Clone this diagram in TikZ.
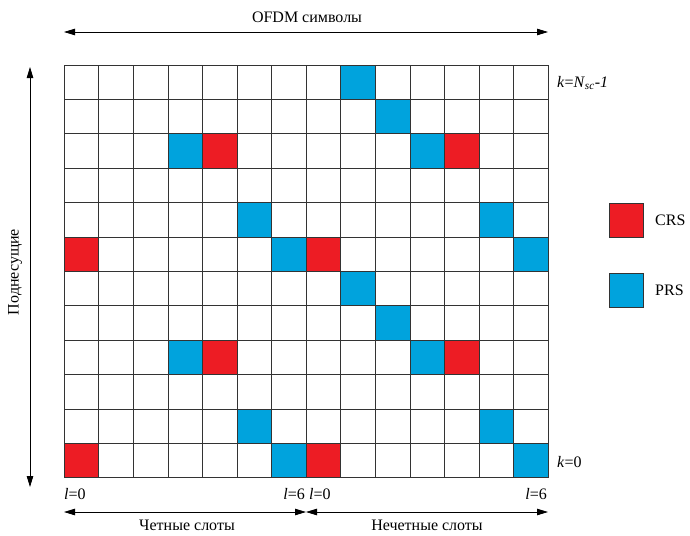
\documentclass[tikz,border=0pt]{standalone}
\usepackage{fontspec}
\setmainfont{Liberation Serif}
\usetikzlibrary{arrows.meta}
\definecolor{crsred}{HTML}{ED1C24}
\definecolor{prsblue}{HTML}{00A3DD}
\definecolor{gridline}{HTML}{333333}
\begin{document}
\begin{tikzpicture}[x=1pt,y=-1pt,
  lbl/.style={font=\fontsize{16}{18}\selectfont, inner sep=0pt},
  dimarrow/.style={line width=0.8pt, {Triangle[length=11pt,width=6.5pt]}-{Triangle[length=11pt,width=6.5pt]}},
  crs/.style={fill=crsred},
  prs/.style={fill=prsblue},
  legbox/.style={draw=gridline, line width=0.8pt, minimum width=34pt, minimum height=34pt, inner sep=0pt}]
\useasboundingbox (0,0) rectangle (690,535);
\def\xo{64.3}\def\yo{65}\def\cw{34.57}\def\rh{34.4}
% coloured resource elements: row from top, column from left
\foreach \r/\c/\s in {0/8/prs,1/9/prs,2/3/prs,2/4/crs,2/10/prs,2/11/crs,
  4/5/prs,4/12/prs,5/0/crs,5/6/prs,5/7/crs,5/13/prs,
  6/8/prs,7/9/prs,8/3/prs,8/4/crs,8/10/prs,8/11/crs,
  10/5/prs,10/12/prs,11/0/crs,11/6/prs,11/7/crs,11/13/prs}
  \fill[\s] ({\xo+\c*\cw},{\yo+\r*\rh}) rectangle ++(\cw,\rh);
% resource grid
\foreach \c in {0,...,14}
  \draw[gridline, line width=0.8pt] ({\xo+\c*\cw},\yo) -- ({\xo+\c*\cw},{\yo+12*\rh});
\foreach \r in {0,...,12}
  \draw[gridline, line width=0.8pt] (\xo,{\yo+\r*\rh}) -- ({\xo+14*\cw},{\yo+\r*\rh});
% axis arrows
\coordinate (tl) at (64,32); \coordinate (tr) at (548,32);
\draw[dimarrow] (tl) -- (tr);
\node[lbl] (ofdm) at (307,17) {OFDM символы};
\coordinate (vt) at (30,67); \coordinate (vb) at (30,487);
\draw[dimarrow] (vt) -- (vb);
\node[lbl, rotate=90] (sub) at (15,272) {Поднесущие};
\coordinate (bl) at (64,512); \coordinate (bm) at (306,512); \coordinate (br) at (548,512);
\draw[dimarrow] (bl) -- (bm);
\draw[dimarrow] (bm) -- (br);
\node[lbl] (even) at (187,525.5) {Четные слоты};
\node[lbl] (odd) at (427,525.5) {Нечетные слоты};
% symbol and subcarrier indices
\node[lbl, anchor=west] (l0a) at (64,494) {\textit{l}=0};
\node[lbl, anchor=east] (l6a) at (305,494) {\textit{l}=6};
\node[lbl, anchor=west] (l0b) at (309,494) {\textit{l}=0};
\node[lbl, anchor=east] (l6b) at (547,494) {\textit{l}=6};
\node[lbl, anchor=west] (ktop) at (557,83) {\textit{k}=\textit{N}\textsubscript{\textit{sc}}-\textit{1}};
\node[lbl, anchor=west] (kbot) at (557,462) {\textit{k}=0};
% legend
\node[legbox, fill=crsred] (legcrs) at (626,220) {};
\node[lbl, anchor=west] (crstxt) at (655,220) {CRS};
\node[legbox, fill=prsblue] (legprs) at (626,290) {};
\node[lbl, anchor=west] (prstxt) at (655,290) {PRS};
\end{tikzpicture}
\end{document}
